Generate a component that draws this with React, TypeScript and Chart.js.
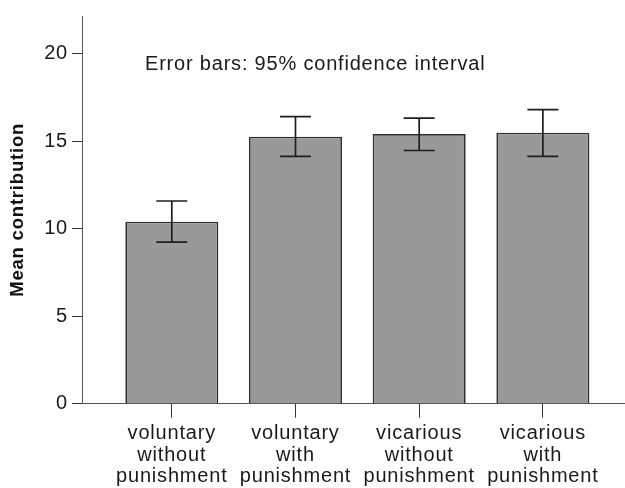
import React, { useEffect, useRef } from "react";
import { Chart, registerables } from "chart.js";

Chart.register(...registerables);

const categories: string[][] = [
  ["voluntary", "without", "punishment"],
  ["voluntary", "with", "punishment"],
  ["vicarious", "without", "punishment"],
  ["vicarious", "with", "punishment"],
];
const means: number[] = [10.41, 15.27, 15.42, 15.5];
const ciLow: number[] = [9.24, 14.14, 14.48, 14.14];
const ciHigh: number[] = [11.59, 16.42, 16.33, 16.82];
const yTicks: number[] = [0, 5, 10, 15, 20];
const noteText = "Error bars: 95% confidence interval";

const FONT = "'Liberation Sans', Arial, sans-serif";
const TEXT = "#1a1a1a";
const SPACING = "0.8px";

const spacingPlugin = {
  id: "spacing",
  beforeLayout(chart: any) {
    chart.ctx.letterSpacing = SPACING;
  },
  beforeDraw(chart: any) {
    chart.ctx.letterSpacing = SPACING;
  },
};

const errorBarPlugin = {
  id: "errorBars",
  afterDatasetsDraw(chart: any) {
    const { ctx, scales } = chart;
    const xs = scales.x;
    const ys = scales.y;
    ctx.save();
    ctx.strokeStyle = "#1e1e1e";
    ctx.lineWidth = 1.7;
    const half = 15.5;
    categories.forEach((_, i) => {
      const x = xs.getPixelForValue(i + 1);
      const yl = ys.getPixelForValue(ciLow[i]);
      const yh = ys.getPixelForValue(ciHigh[i]);
      ctx.beginPath();
      ctx.moveTo(x, yl);
      ctx.lineTo(x, yh);
      ctx.moveTo(x - half, yl);
      ctx.lineTo(x + half, yl);
      ctx.moveTo(x - half, yh);
      ctx.lineTo(x + half, yh);
      ctx.stroke();
    });
    ctx.restore();
  },
  afterDraw(chart: any) {
    const { ctx, chartArea } = chart;
    ctx.save();
    ctx.letterSpacing = SPACING;
    ctx.font = `20px ${FONT}`;
    ctx.fillStyle = TEXT;
    ctx.textBaseline = "alphabetic";
    ctx.textAlign = "left";
    ctx.fillText(noteText, chartArea.left + 63, chartArea.top + 54);
    ctx.restore();
  },
};

export default function App() {
  const ref = useRef<HTMLCanvasElement | null>(null);
  useEffect(() => {
    document.body.style.margin = "0";
    const canvas = ref.current!;
    const chart = new Chart(canvas, {
      type: "bar",
      data: {
        datasets: [
          {
            data: means.map((m, i) => ({ x: i + 1, y: m })),
            backgroundColor: "#999999",
            borderColor: "#2e2e2e",
            borderWidth: 1.7,
            borderSkipped: "start",
            categoryPercentage: 1,
            barPercentage: 0.752,
          },
        ],
      },
      options: {
        animation: false,
        responsive: true,
        maintainAspectRatio: false,
        layout: { padding: { top: 12.7, right: 0, left: 0, bottom: 0 } },
        plugins: {
          legend: { display: false },
          tooltip: { enabled: false },
        },
        scales: {
          x: {
            type: "linear",
            offset: false,
            bounds: "data",
            min: 0.274,
            max: 4.664,
            afterBuildTicks(scale: any) {
              scale.ticks = categories.map((_, i) => ({ value: i + 1 }));
            },
            afterFit(scale: any) {
              scale.height = 84.3;
              scale.paddingLeft = 0;
              scale.paddingRight = 0;
            },
            grid: {
              offset: false,
              drawOnChartArea: false,
              drawTicks: true,
              tickLength: 14,
              color: "#333",
              lineWidth: 1,
            },
            border: { display: true, color: "#555", width: 1 },
            ticks: {
              autoSkip: false,
              maxRotation: 0,
              minRotation: 0,
              padding: 5,
              color: TEXT,
              font: { family: FONT, size: 20, lineHeight: 1.085 },
              callback: (v: any) => categories[Math.round(Number(v)) - 1] ?? "",
            },
          },
          y: {
            min: 0,
            max: 22.17,
            afterBuildTicks(scale: any) {
              scale.ticks = yTicks.map((v) => ({ value: v }));
            },
            afterFit(scale: any) {
              scale.width = 82;
            },
            grid: {
              drawOnChartArea: false,
              drawTicks: true,
              tickLength: 10,
              color: "#333",
              lineWidth: 1,
            },
            border: { display: true, color: "#555", width: 1 },
            ticks: {
              padding: 4,
              color: TEXT,
              font: { family: FONT, size: 20 },
            },
            title: {
              display: true,
              text: "Mean contribution",
              color: "#111",
              font: { family: FONT, size: 18.5, weight: "bold" },
              padding: { top: 7, bottom: 0 },
            },
          },
        },
      },
      plugins: [spacingPlugin, errorBarPlugin],
    } as any);
    return () => chart.destroy();
  }, []);
  return (
    <div style={{ width: "625px", height: "488px", position: "relative" }}>
      <canvas ref={ref} />
    </div>
  );
}
